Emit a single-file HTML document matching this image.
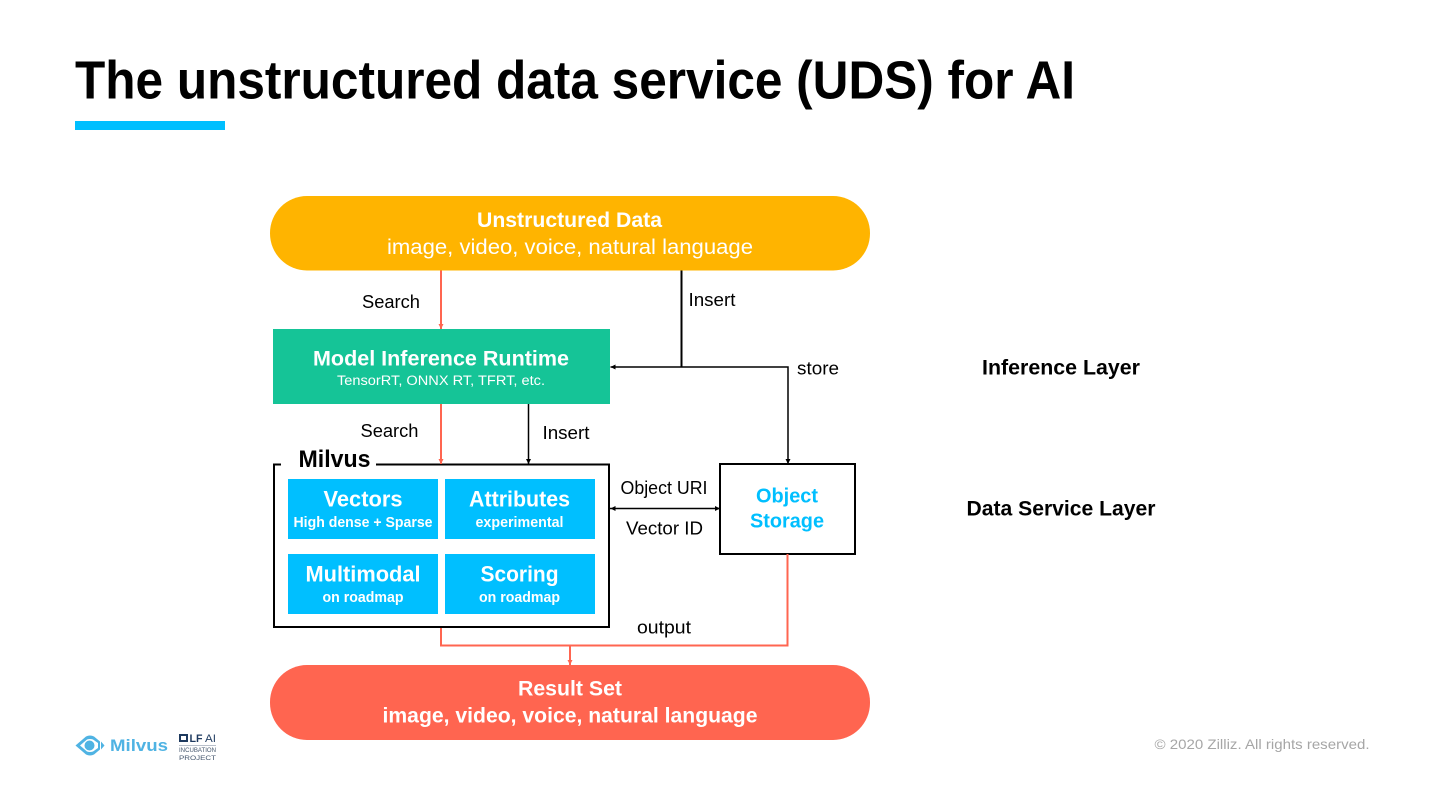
<!DOCTYPE html>
<html><head><meta charset="utf-8"><title>UDS</title>
<style>html,body{margin:0;padding:0;background:#fff;width:1440px;height:810px;overflow:hidden}svg{display:block}
text{font-family:"Liberation Sans",sans-serif;text-anchor:middle;fill:#000}
.b{font-weight:bold}.w{fill:#fff}</style></head><body>
<svg width="1440" height="810" viewBox="0 0 1440 810" xmlns="http://www.w3.org/2000/svg">
<defs>
<marker id="ak" markerWidth="6" markerHeight="6" refX="5" refY="3" orient="auto" markerUnits="userSpaceOnUse"><path d="M0,0.5L5,3L0,5.5z" fill="#000"/></marker>
<marker id="ar" markerWidth="6" markerHeight="6" refX="5" refY="3" orient="auto" markerUnits="userSpaceOnUse"><path d="M0,0.5L5,3L0,5.5z" fill="#ff6550"/></marker>
</defs>
<text x="75" y="98.5" class="b" font-size="54" style="text-anchor:start" textLength="1000" lengthAdjust="spacingAndGlyphs">The unstructured data service (UDS) for AI</text>
<rect x="75" y="121" width="150" height="9" fill="#00bfff"/>

<rect x="270" y="196" width="600" height="74.5" rx="37" fill="#ffb400"/>
<text x="569.5" y="227" class="b w" font-size="21" textLength="185" lengthAdjust="spacingAndGlyphs">Unstructured Data</text>
<text x="570" y="254" class="w" font-size="21" textLength="366" lengthAdjust="spacingAndGlyphs">image, video, voice, natural language</text>

<rect x="273" y="329" width="337" height="75" fill="#15c497"/>
<text x="441" y="365.5" class="b w" font-size="21" textLength="256" lengthAdjust="spacingAndGlyphs">Model Inference Runtime</text>
<text x="441" y="385" class="w" font-size="13.5" textLength="208" lengthAdjust="spacingAndGlyphs">TensorRT, ONNX RT, TFRT, etc.</text>

<rect x="274" y="464.5" width="335" height="162.5" fill="#fff" stroke="#000" stroke-width="2"/>
<rect x="281" y="450" width="95" height="26" fill="#fff"/>
<text x="334.5" y="467" class="b" font-size="24" textLength="72" lengthAdjust="spacingAndGlyphs">Milvus</text>

<rect x="288" y="479" width="150" height="60" fill="#00bfff"/>
<rect x="445" y="479" width="150" height="60" fill="#00bfff"/>
<rect x="288" y="554" width="150" height="60" fill="#00bfff"/>
<rect x="445" y="554" width="150" height="60" fill="#00bfff"/>
<text x="363" y="506.5" class="b w" font-size="22" textLength="79" lengthAdjust="spacingAndGlyphs">Vectors</text>
<text x="363" y="527" class="b w" font-size="14.5" textLength="139" lengthAdjust="spacingAndGlyphs">High dense + Sparse</text>
<text x="519.5" y="506.5" class="b w" font-size="22" textLength="101" lengthAdjust="spacingAndGlyphs">Attributes</text>
<text x="519.5" y="527" class="b w" font-size="14.5" textLength="88" lengthAdjust="spacingAndGlyphs">experimental</text>
<text x="363" y="581.5" class="b w" font-size="22" textLength="115" lengthAdjust="spacingAndGlyphs">Multimodal</text>
<text x="363" y="602" class="b w" font-size="14.5" textLength="81" lengthAdjust="spacingAndGlyphs">on roadmap</text>
<text x="519.5" y="581.5" class="b w" font-size="22" textLength="78" lengthAdjust="spacingAndGlyphs">Scoring</text>
<text x="519.5" y="602" class="b w" font-size="14.5" textLength="81" lengthAdjust="spacingAndGlyphs">on roadmap</text>

<rect x="720" y="464" width="135" height="90" fill="#fff" stroke="#000" stroke-width="2"/>
<text x="787" y="502.5" class="b" style="fill:#00bfff" font-size="20" textLength="62" lengthAdjust="spacingAndGlyphs">Object</text>
<text x="787" y="527.5" class="b" style="fill:#00bfff" font-size="20" textLength="74" lengthAdjust="spacingAndGlyphs">Storage</text>

<rect x="270" y="665" width="600" height="75" rx="37" fill="#ff6550"/>
<text x="570" y="695.5" class="b w" font-size="21" textLength="104" lengthAdjust="spacingAndGlyphs">Result Set</text>
<text x="570" y="722.5" class="b w" font-size="21" textLength="375" lengthAdjust="spacingAndGlyphs">image, video, voice, natural language</text>

<g fill="none" stroke="#ff6550" stroke-width="2">
<path d="M441,270.5V329" marker-end="url(#ar)"/>
<path d="M441,404V464" marker-end="url(#ar)"/>
<path d="M441,628V645.5H787.5V554"/>
<path d="M570,645.5V665" marker-end="url(#ar)"/>
</g>
<g fill="none" stroke="#000" stroke-width="1.5">
<path d="M681.5,270.5V367" stroke-width="2"/>
<path d="M681,367H610.5" marker-end="url(#ak)"/>
<path d="M681,367H788V464" marker-end="url(#ak)"/>
<path d="M528.5,404V464" marker-end="url(#ak)"/>
<path d="M610,508.5H720" marker-end="url(#ak)"/>
<path d="M610.5,506L615.5,508.5L610.5,511z" transform="rotate(180 613 508.5)" fill="#000" stroke="none"/>
</g>

<g font-size="18">
<text x="391" y="308" textLength="58" lengthAdjust="spacingAndGlyphs">Search</text>
<text x="712" y="306" textLength="47" lengthAdjust="spacingAndGlyphs">Insert</text>
<text x="818" y="374.5" textLength="42" lengthAdjust="spacingAndGlyphs">store</text>
<text x="389.5" y="437" textLength="58" lengthAdjust="spacingAndGlyphs">Search</text>
<text x="566" y="439" textLength="47" lengthAdjust="spacingAndGlyphs">Insert</text>
<text x="664" y="494" textLength="87" lengthAdjust="spacingAndGlyphs">Object URI</text>
<text x="664.5" y="534.5" textLength="77" lengthAdjust="spacingAndGlyphs">Vector ID</text>
<text x="664" y="633.5" textLength="54" lengthAdjust="spacingAndGlyphs">output</text>
</g>
<text x="1061" y="374.5" class="b" font-size="21" textLength="158" lengthAdjust="spacingAndGlyphs">Inference Layer</text>
<text x="1061" y="515.5" class="b" font-size="21" textLength="189" lengthAdjust="spacingAndGlyphs">Data Service Layer</text>

<text x="1262" y="749" style="fill:#a6a6a6" font-size="14" textLength="215" lengthAdjust="spacingAndGlyphs">© 2020 Zilliz. All rights reserved.</text>

<!-- logo -->
<path d="M75.5,745.5L86,736.5Q90,734.5 94,736.5L100,741.5V749.5L94,754.5Q90,756.5 86,754.5Z" fill="#4fb3e3"/>
<path d="M80,745.5L87,739.5Q90,738.5 93,739.5L98,743V748L93,751.5Q90,752.5 87,751.5Z" fill="#fff"/>
<circle cx="89.5" cy="745.5" r="5" fill="#4fb3e3"/>
<path d="M101,741.5L104.5,745.5L101,749.5z" fill="#4fb3e3"/>
<text x="139" y="751" class="b" style="fill:#4fb3e3" font-size="17" textLength="58" lengthAdjust="spacingAndGlyphs">Milvus</text>
<rect x="179" y="734" width="9" height="8" fill="#1e3a5f"/>
<rect x="181" y="736" width="5" height="4" fill="#fff"/>
<text x="196" y="742" class="b" style="fill:#1e3a5f" font-size="11" textLength="13" lengthAdjust="spacingAndGlyphs">LF</text>
<text x="210.5" y="742" style="fill:#1e3a5f" font-size="11" textLength="11" lengthAdjust="spacingAndGlyphs">AI</text>
<rect x="179" y="745" width="37" height="0.6" fill="#8a97a8"/>
<text x="197.5" y="752" style="fill:#44566c" font-size="6" textLength="37" lengthAdjust="spacingAndGlyphs">INCUBATION</text>
<text x="197.5" y="760" style="fill:#44566c" font-size="6.5" textLength="37" lengthAdjust="spacingAndGlyphs">PROJECT</text>
</svg>
</body></html>
